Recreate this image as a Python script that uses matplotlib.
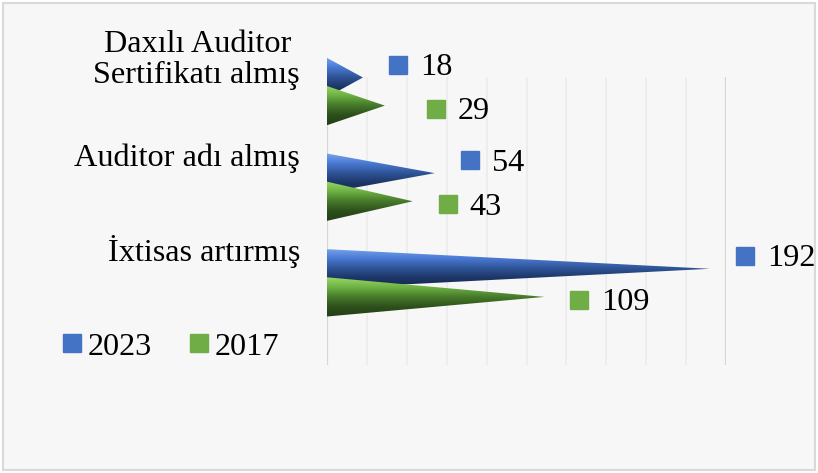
import numpy as np
import matplotlib
matplotlib.use('Agg')
from matplotlib import pyplot as plt
from matplotlib.patches import Polygon, Rectangle
from matplotlib.lines import Line2D
from matplotlib.colors import LinearSegmentedColormap
from matplotlib import transforms

categories = ['Daxılı Auditor \nSertifikatı almış', 'Auditor adı almış', 'İxtisas artırmış']
vals_2023 = [18, 54, 192]
vals_2017 = [29, 43, 109]
series_names = ['2023', '2017']

plt.rcParams['font.family'] = ['Liberation Serif', 'DejaVu Serif']
fs = 23.2
bg = '#f7f7f7'

blue_cmap = LinearSegmentedColormap.from_list('b', ['#7aa6ee', '#4a7ad4', '#2f5597', '#1c3566', '#172a50'])
green_cmap = LinearSegmentedColormap.from_list('g', ['#9ad86c', '#6fb244', '#467a2a', '#2d4f1b', '#243f16'])

fig = plt.figure(figsize=(8.18, 4.73), dpi=100)
fig.patch.set_facecolor('white')
fig.add_artist(Rectangle((3/818, 3/473), 812/818, 467/473, transform=fig.transFigure,
                         facecolor=bg, edgecolor='#d9d9d9', lw=1.5, zorder=-10))

# axes a bit taller than the plot area so the cones at the top are not cut
ax = fig.add_axes([327/818, 108/473, 399/818, 315/473])
ax.set_facecolor('none')
y_top, y_bot = -0.152, 2.859
ax.set_xlim(0, 200)
ax.set_ylim(y_bot, -0.4346)
ax.axis('off')

for gx in np.arange(0, 201, 20):
    edge = gx in (0, 200)
    ax.vlines(gx, y_top, y_bot, color='#d6d6d6' if edge else '#ebebeb',
              lw=1.6 if edge else 1.2, zorder=0)

off = 0.147
h = 0.205
y = np.arange(len(categories))


def cone(v, yc, cmap):
    tri = Polygon([[0, yc - h], [v, yc], [0, yc + h]], closed=True, facecolor='none',
                  edgecolor='none', transform=ax.transData)
    ax.add_patch(tri)
    grad = np.linspace(0, 1, 200).reshape(-1, 1)
    im = ax.imshow(grad, cmap=cmap, aspect='auto', extent=[0, v, yc + h, yc - h],
                   interpolation='bilinear', zorder=2)
    im.set_clip_path(tri)


for i in range(len(categories)):
    cone(vals_2023[i], y[i] - off, blue_cmap)
    cone(vals_2017[i], y[i] + off, green_cmap)

ax.set_xlim(0, 200)
ax.set_ylim(y_bot, -0.4346)

# data labels
nudge_2017 = [16, 0, 0]
for i in range(len(categories)):
    for v, yc, col, nx, dy in [(vals_2023[i], y[i] - off, '#4472c4', 0, 13),
                               (vals_2017[i], y[i] + off, '#70ad47', nudge_2017[i], -3)]:
        tr = transforms.offset_copy(ax.transData, fig=fig, x=35 + nx, y=dy, units='dots')
        ax.plot([v], [yc], marker='s', ms=12.5, color=col, transform=tr, clip_on=False, zorder=3)
        tr2 = transforms.offset_copy(ax.transData, fig=fig, x=35 + nx + 22, y=dy - 3, units='dots')
        ax.text(v, yc, str(v), transform=tr2, fontsize=fs, va='center', ha='left', clip_on=False)

# category labels
label_dy = [-0.33, -0.30, -0.33]
for i, c in enumerate(categories):
    tr = transforms.offset_copy(ax.transData, fig=fig, x=-27, y=0, units='dots')
    ax.text(0, y[i] + label_dy[i], c, transform=tr, fontsize=fs, ha='right', va='center',
            multialignment='right', linespacing=1.12)

handles = [Line2D([], [], marker='s', ls='none', ms=12.5, color='#4472c4'),
           Line2D([], [], marker='s', ls='none', ms=12.5, color='#70ad47')]
fig.legend(handles, series_names, loc='center left', bbox_to_anchor=(62/818, 1 - 347/473),
           ncol=2, frameon=False, fontsize=fs, handlelength=0.6, handletextpad=0.2,
           columnspacing=1.15, borderpad=0, borderaxespad=0)

fig.savefig('out.png', dpi=100, facecolor=fig.get_facecolor())
